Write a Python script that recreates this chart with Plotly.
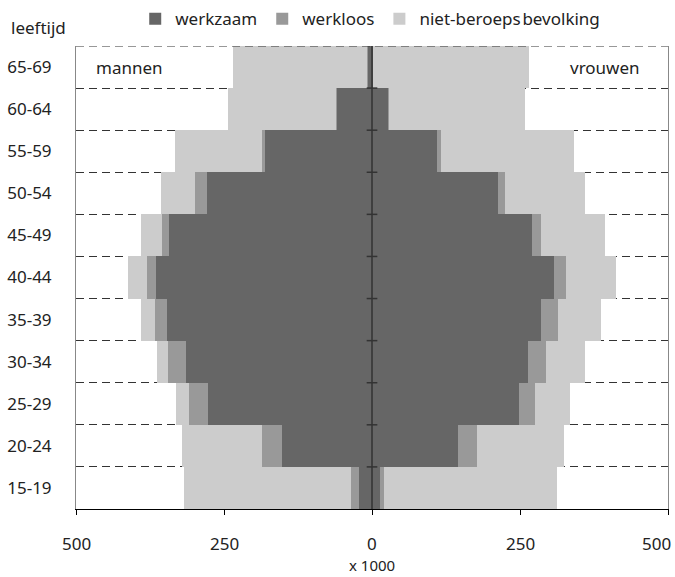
import plotly.graph_objects as go

ages = ["15-19", "20-24", "25-29", "30-34", "35-39", "40-44",
        "45-49", "50-54", "55-59", "60-64", "65-69"]

men_werkzaam = [22, 152, 277, 315, 347, 365, 343, 279, 180, 59, 7]
men_werkloos = [14, 34, 32, 29, 20, 15, 11, 20, 6, 1, 1]
men_niet = [282, 135, 22, 20, 24, 32, 36, 57, 146, 183, 226]

women_werkzaam = [14, 145, 248, 263, 286, 308, 270, 212, 110, 27, 2]
women_werkloos = [7, 32, 27, 31, 29, 19, 16, 12, 7, 1, 0]
women_niet = [291, 148, 59, 66, 71, 85, 107, 136, 224, 230, 264]

x_ticks = [-500, -250, 0, 250, 500]
x_tick_text = ["500", "250", "0", "250", "500"]

series_names = ["werkzaam", "werkloos", "niet-beroeps\u200abevolking"]
colors = ["#666666", "#999999", "#cccccc"]

FONT = "Noto Sans"
TXT = "#222222"
FS = 17

ypos = list(range(len(ages)))

fig = go.Figure()
men = [men_werkzaam, men_werkloos, men_niet]
women = [women_werkzaam, women_werkloos, women_niet]
for name, col, m, w in zip(series_names, colors, men, women):
    fig.add_trace(go.Bar(y=ypos, x=[-v for v in m], orientation="h",
                         marker=dict(color=col, line=dict(width=0)),
                         name=name, legendgroup=name, showlegend=True))
    fig.add_trace(go.Bar(y=ypos, x=w, orientation="h",
                         marker=dict(color=col, line=dict(width=0)),
                         name=name, legendgroup=name, showlegend=False))

shapes = []
# top dashed border
shapes.append(dict(type="line", xref="x", yref="y", x0=-500, x1=500,
                   y0=len(ages) - 0.5, y1=len(ages) - 0.5,
                   line=dict(color="#333333", width=1, dash="8px,5px"),
                   layer="above"))
# centre line
shapes.append(dict(type="line", xref="x", yref="y", x0=0, x1=0,
                   y0=-0.5, y1=len(ages) - 0.5,
                   line=dict(color="#333333", width=1.5), layer="above"))
# centre tick marks at the row boundaries
for i in range(1, len(ages)):
    shapes.append(dict(type="line", xref="x", yref="y", x0=-9, x1=9,
                       y0=i - 0.5, y1=i - 0.5,
                       line=dict(color="#333333", width=1.5), layer="above"))

annotations = []
for v, t in zip(x_ticks, x_tick_text):
    if v == x_ticks[-1]:
        annotations.append(dict(x=v, y=0, xref="x", yref="paper", text=t,
                                showarrow=False, xanchor="right", yanchor="top",
                                xshift=5, yshift=-21,
                                font=dict(family=FONT, size=FS, color=TXT)))
    else:
        annotations.append(dict(x=v, y=0, xref="x", yref="paper", text=t,
                                showarrow=False, xanchor="center", yanchor="top",
                                yshift=-21,
                                font=dict(family=FONT, size=FS, color=TXT)))
annotations += [
    dict(x=0, y=0, xref="x", yref="paper", text="x 1000", showarrow=False,
         xanchor="center", yanchor="middle", yshift=-56, borderpad=0,
         font=dict(family=FONT, size=15, color=TXT)),
    dict(x=-0.113, y=1, xref="paper", yref="paper", text="leeftijd",
         showarrow=False, xanchor="left", yanchor="middle", yshift=19,
         font=dict(family=FONT, size=FS, color=TXT)),
    dict(x=-470, y=len(ages) - 1, xref="x", yref="y", text="mannen",
         showarrow=False, xanchor="left", yanchor="middle",
         font=dict(family=FONT, size=FS, color=TXT)),
    dict(x=456, y=len(ages) - 1, xref="x", yref="y", text="vrouwen",
         showarrow=False, xanchor="right", yanchor="middle",
         font=dict(family=FONT, size=FS, color=TXT)),
]

fig.update_layout(
    width=675, height=577,
    margin=dict(l=76, r=7, t=46, b=68, autoexpand=False),
    paper_bgcolor="white", plot_bgcolor="white",
    barmode="relative", bargap=0,
    font=dict(family=FONT, size=FS, color=TXT),
    showlegend=True,
    legend=dict(orientation="h", x=0.497, xanchor="center", y=1.058,
                yanchor="middle", font=dict(family=FONT, size=FS, color=TXT),
                itemwidth=30, traceorder="normal", bgcolor="rgba(0,0,0,0)"),
    shapes=shapes,
    annotations=annotations,
)

fig.update_xaxes(range=[-500, 500], tickvals=x_ticks, showticklabels=False,
                 ticks="outside", ticklen=5, tickcolor="black",
                 showline=True, linecolor="black", linewidth=1,
                 showgrid=False, zeroline=False, fixedrange=True)

fig.update_yaxes(range=[-0.5, len(ages) - 0.5], tickvals=ypos, ticktext=ages,
                 ticks="", showline=True, linecolor="#888888", linewidth=1,
                 mirror=True, ticklabelstandoff=20,
                 showgrid=False, zeroline=False,
                 minor=dict(tickvals=[i - 0.5 for i in range(1, len(ages))],
                            showgrid=True, gridcolor="#333333", gridwidth=1,
                            griddash="8px,5px", ticks=""),
                 tickfont=dict(family=FONT, size=FS, color=TXT),
                 fixedrange=True)

fig.write_html("out.html",
               config={"displayModeBar": False, "staticPlot": True},
               post_script="document.body.style.margin='0';"
                           "document.body.style.overflow='hidden';")
